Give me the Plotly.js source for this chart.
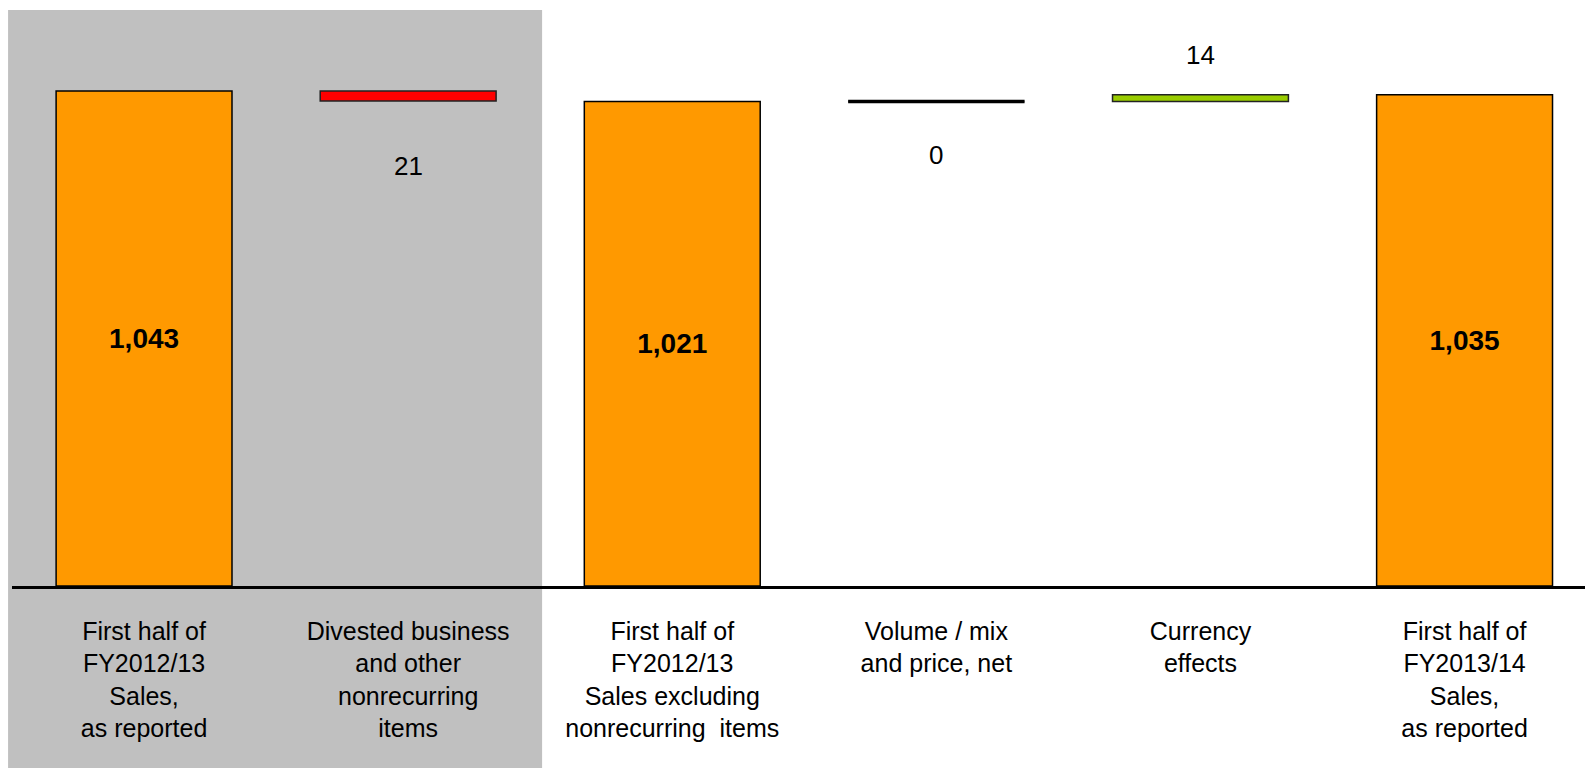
<!DOCTYPE html>
<html>
<head>
<meta charset="utf-8">
<script src="https://cdn.plot.ly/plotly-3.0.1.min.js"></script>
<style>html,body{margin:0;padding:0;background:#fff;}#chart{width:1585px;height:768px;}</style>
</head>
<body>
<div id="chart"></div>
<script>
// ---- data ----
const categories = [
  "First half of<br>FY2012/13<br>Sales,<br>as reported",
  "Divested business<br>and other<br>nonrecurring<br>items",
  "First half of<br>FY2012/13<br>Sales excluding<br>nonrecurring  items",
  "Volume / mix<br>and price, net",
  "Currency<br>effects",
  "First half of<br>FY2013/14<br>Sales,<br>as reported"
];
const measures = ["total", "relative", "total", "relative", "relative", "total"];
const values = [1043, -21, 1021, 0, 14, 1035];

// ---- derived (waterfall bases) ----
const totX = [], totY = [];
const relX = [], relY = [], relBase = [], relColor = [];
let running = 0;
measures.forEach((m, i) => {
  if (m === "total") {
    totX.push(categories[i]); totY.push(values[i]); running = values[i];
  } else {
    relX.push(categories[i]); relY.push(values[i]); relBase.push(running);
    relColor.push(values[i] < 0 ? "#FF0000" : (values[i] > 0 ? "#99CC00" : "#000000"));
    running += values[i];
  }
});
const zeroX = relX.filter((_, k) => relY[k] === 0);
const zeroY = relBase.filter((_, k) => relY[k] === 0);

const traces = [
  {
    type: "bar", x: totX, y: totY,
    marker: {color: "#FF9900", line: {color: "#000000", width: 1.5}},
    texttemplate: "%{y:,}", textposition: "inside", insidetextanchor: "middle",
    textfont: {family: "Liberation Sans, Arial, sans-serif", size: 28, color: "#000", weight: "bold"},
    hoverinfo: "skip", cliponaxis: false
  },
  {
    type: "bar", x: relX, y: relY, base: relBase,
    marker: {color: relColor, line: {color: "#222222", width: 1.5}},
    hoverinfo: "skip"
  },
  {
    type: "scatter", mode: "markers", x: zeroX, y: zeroY,
    marker: {symbol: "line-ew", size: 126, color: "#000", line: {color: "#000", width: 3.5}},
    hoverinfo: "skip", cliponaxis: false
  }
];

// delta labels
const labelShift = {"-": -65, "0": -54, "+": 40};
const annotations = relX.map((x, k) => {
  const v = relY[k];
  const end = relBase[k] + v;
  const key = v < 0 ? "-" : (v > 0 ? "+" : "0");
  return {
    x: x, y: end, xref: "x", yref: "y", text: String(Math.abs(v)),
    showarrow: false, yanchor: "middle", yshift: labelShift[key],
    font: {family: "Liberation Sans, Arial, sans-serif", size: 26, color: "#000"}
  };
});

const layout = {
  width: 1585, height: 768,
  margin: {l: 12, r: 0, t: 10, b: 182},
  paper_bgcolor: "#FFFFFF", plot_bgcolor: "rgba(0,0,0,0)",
  showlegend: false,
  barmode: "overlay", bargap: 0.334,
  xaxis: {
    type: "category", categoryorder: "array", categoryarray: categories,
    range: [-0.5, 5.456],
    showline: true, linecolor: "#000", linewidth: 2.5,
    showgrid: false, zeroline: false, ticks: "",
    tickfont: {family: "Liberation Sans, Arial, sans-serif", size: 25, color: "#000"},
    ticklabelstandoff: 21, fixedrange: true
  },
  yaxis: {
    range: [0, 1213.6], visible: false, showgrid: false, zeroline: false, fixedrange: true
  },
  shapes: [{
    type: "rect", xref: "paper", yref: "paper",
    x0: -0.0025, x1: 0.337, y0: -0.32, y1: 1,
    fillcolor: "#C0C0C0", line: {width: 0}, layer: "below"
  }],
  annotations: annotations
};

Plotly.newPlot("chart", traces, layout, {displayModeBar: false, staticPlot: true});
</script>
</body>
</html>
